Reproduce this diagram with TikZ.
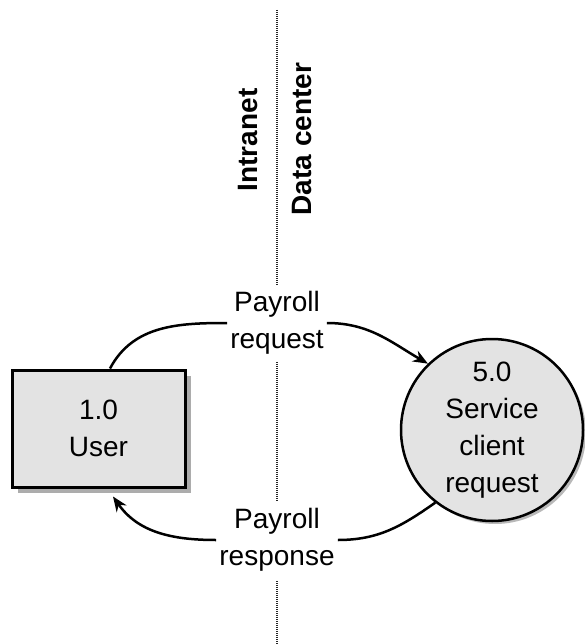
\documentclass[tikz,border=0pt]{standalone}
\usepackage{fontspec}
\setmainfont{Liberation Sans}
\usetikzlibrary{arrows.meta,shadows}

\begin{document}
\begin{tikzpicture}[x=1pt,y=1pt]
	\tikzstyle{every node}+=[font=\fontsize{28}{37}\selectfont, align=center]
	\tikzstyle{flow}=[line width=2.5pt, -{Stealth[length=15pt,width=12pt]}]
	\tikzstyle{border}=[line width=2pt, black!85, dash pattern=on 1pt off 1pt]
	\tikzstyle{zone}=[rotate=90, font=\fontsize{28}{37}\selectfont\bfseries]
	\useasboundingbox (0,0) rectangle (585,-644);
	% trust boundary
	\node [zone] (intranet) at (248,-140) {Intranet};
	\node [zone] (datacenter) at (302,-139) {Data center};
	% entity and process
	\node [draw, line width=3pt, fill=gray!22, minimum width=173pt, minimum height=117pt,
	       drop shadow={shadow xshift=6pt, shadow yshift=-6pt, fill=gray!65, opacity=1}]
	      (user) at (98.5,-428.5) {1.0\\User};
	\node [draw, circle, line width=2.5pt, fill=gray!22, minimum size=182pt, inner sep=0pt,
	       drop shadow={shadow xshift=3pt, shadow yshift=-3pt, fill=gray!55, opacity=1}]
	      (service) at (492,-430) {5.0\\Service\\client\\request};
	% flow labels
	\node [inner sep=3pt] (req) at (277,-323) {Payroll\\request};
	\node [inner sep=3pt] (resp) at (277,-540) {Payroll\\response};
	\coordinate (top) at (277,-10);
	\coordinate (bottom) at (277,-644);
	\draw [border] (top) -- ([yshift=4pt]req.north);
	\draw [border] ([yshift=-4pt]req.south) -- ([yshift=4pt]resp.north);
	\draw [border] ([yshift=-6pt]resp.south) -- (bottom);
	% data flows
	\draw [line width=2.5pt] ([xshift=11.5pt]user.north) to[out=62, in=180] (req.west);
	\draw [flow] (req.east) to[out=0, in=150] (service.134);
	\draw [line width=2.5pt] (service.232) to[out=215, in=0] (resp.east);
	\draw [flow] (resp.west) to[out=180, in=-55] ([xshift=14.5pt, yshift=-8pt]user.south);
\end{tikzpicture}
\end{document}
